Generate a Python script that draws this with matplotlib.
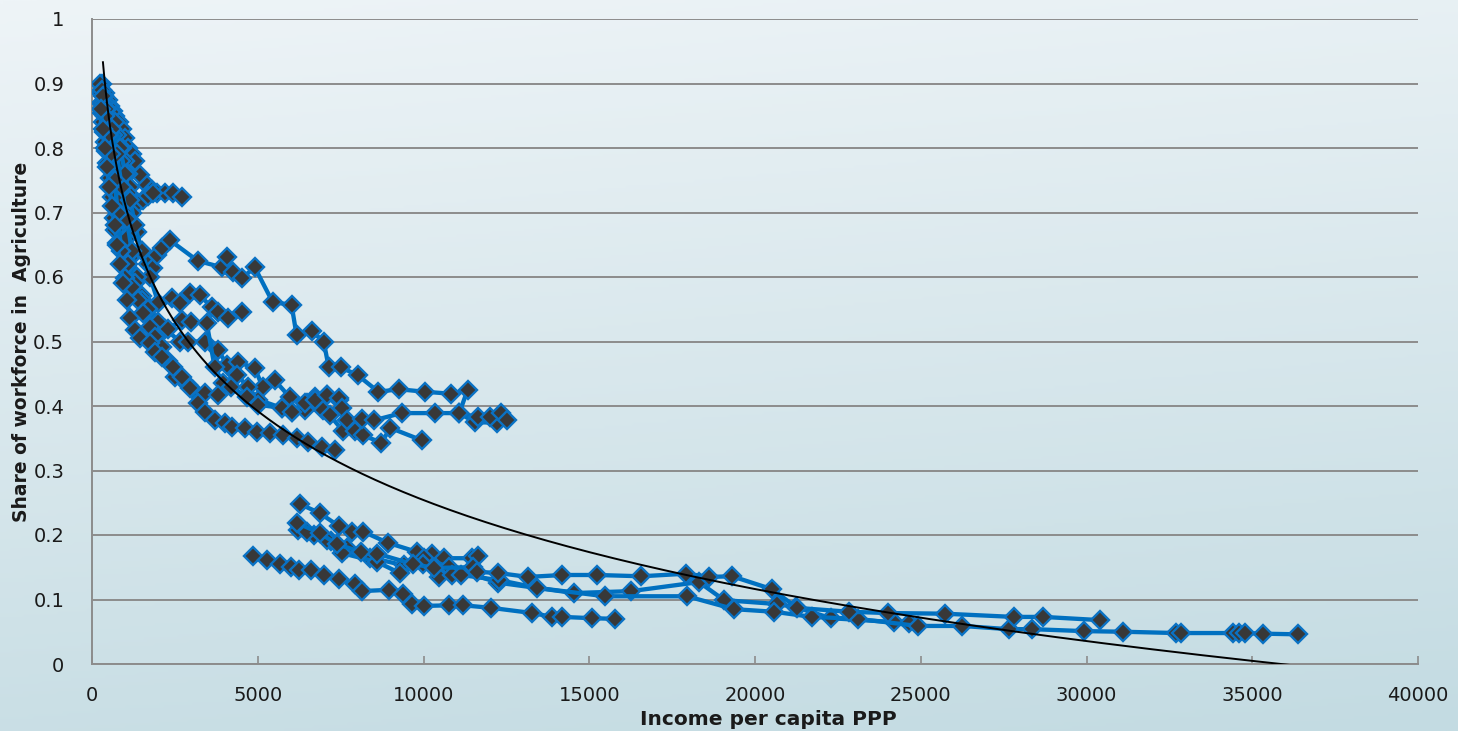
import numpy as np
import matplotlib
matplotlib.use("Agg")
import matplotlib.pyplot as plt
from matplotlib.colors import LinearSegmentedColormap

# ---------------- data (income per capita PPP, share of workforce in agriculture) -------------
u1_x = [300, 400, 480, 550, 620, 700, 800, 900, 1000, 1100, 1200, 1300, 1450, 1650, 1800, 1960, 2200, 2440, 2710]
u1_y = [0.90, 0.885, 0.875, 0.865, 0.858, 0.85, 0.84, 0.83, 0.815, 0.80, 0.79, 0.78, 0.758, 0.743, 0.735, 0.73, 0.73, 0.73, 0.724]

u2_x = [240, 260, 280, 300, 330, 360, 400, 430, 450, 540, 600, 660, 690, 750]
u2_y = [0.90, 0.885, 0.87, 0.855, 0.84, 0.825, 0.81, 0.795, 0.777, 0.753, 0.724, 0.691, 0.673, 0.653]

u3_x = [330, 420, 520, 640, 760, 880, 1000, 1100, 1200, 1350, 1500, 1700, 1840, 1960, 2110, 2350, 3190, 3920,
        4070, 4250, 4520, 4910, 5450, 6020, 6170, 6630, 6990, 7140, 7500, 8010, 8640, 9250, 10060, 10840, 11330,
        11080, 11540, 12230]
u3_y = [0.88, 0.86, 0.84, 0.82, 0.80, 0.78, 0.76, 0.73, 0.70, 0.67, 0.64, 0.62, 0.614, 0.634, 0.645, 0.657, 0.625,
        0.615, 0.631, 0.608, 0.598, 0.615, 0.561, 0.557, 0.51, 0.516, 0.50, 0.46, 0.46, 0.448, 0.422, 0.426, 0.422,
        0.419, 0.425, 0.389, 0.375, 0.374]

u4_x = [380, 480, 580, 680, 780, 880, 990, 1200, 1390, 1540, 1750, 1900, 2110, 2300, 2500, 2890, 3040, 3400, 3800,
        4200, 4670, 5000, 5720, 6020, 6420, 6720, 7080, 7440, 7530, 7680, 8130, 8520, 9340, 10360, 11080, 11630,
        12020, 12350, 12530]
u4_y = [0.85, 0.82, 0.79, 0.75, 0.70, 0.64, 0.598, 0.585, 0.564, 0.544, 0.523, 0.507, 0.491, 0.47, 0.445, 0.433,
        0.425, 0.42, 0.417, 0.43, 0.414, 0.402, 0.397, 0.391, 0.405, 0.409, 0.417, 0.412, 0.397, 0.378, 0.38, 0.378,
        0.389, 0.389, 0.389, 0.383, 0.383, 0.389, 0.378]

u5_x = [1100, 1300, 1500, 1700, 2000, 2300, 2710, 3000, 3460, 3700, 3950, 4370, 4700, 5000, 5720, 6020, 6420, 6960,
        7170, 7560, 7920, 8160, 8730, 9000, 9940]
u5_y = [0.62, 0.59, 0.565, 0.55, 0.53, 0.52, 0.533, 0.53, 0.529, 0.46, 0.436, 0.448, 0.43, 0.41, 0.397, 0.391,
        0.394, 0.394, 0.386, 0.362, 0.361, 0.355, 0.343, 0.366, 0.347]

u6_x = [260, 320, 380, 450, 520, 600, 680, 760, 850, 950, 1050, 1150, 1300, 1450, 1750, 1900, 2110, 2440, 2710,
        2950, 3190, 3400, 3700, 4000, 4220, 4610, 4970, 5360, 5750, 6170, 6510, 6930, 7320]
u6_y = [0.86, 0.83, 0.80, 0.77, 0.74, 0.71, 0.68, 0.65, 0.62, 0.59, 0.565, 0.536, 0.518, 0.505, 0.498, 0.484,
        0.476, 0.46, 0.445, 0.428, 0.405, 0.39, 0.378, 0.374, 0.367, 0.366, 0.36, 0.358, 0.355, 0.35, 0.344, 0.336,
        0.332]

u8_x = [700, 850, 1000, 1150, 1300, 1500, 1750, 2000, 2410, 2650, 2950, 3250, 3610, 3800, 4100, 4520]
u8_y = [0.84, 0.80, 0.76, 0.72, 0.68, 0.64, 0.60, 0.56, 0.567, 0.56, 0.575, 0.572, 0.553, 0.546, 0.536, 0.546]

u9_x = [600, 750, 900, 1050, 1200, 1350, 1500, 1700, 1900, 2200, 2650, 2900, 3400, 3800, 4070, 4400, 4910, 5150,
        5510, 5960, 6480, 6720, 7080, 7440]
u9_y = [0.83, 0.79, 0.74, 0.69, 0.64, 0.60, 0.57, 0.55, 0.53, 0.52, 0.50, 0.50, 0.50, 0.487, 0.464, 0.468, 0.459,
        0.429, 0.44, 0.414, 0.405, 0.414, 0.417, 0.41]

u10_x = [300, 350, 420, 500, 580, 650, 720, 800, 880, 960, 1050, 1150, 1250, 1350]
u10_y = [0.89, 0.87, 0.85, 0.83, 0.81, 0.79, 0.77, 0.75, 0.72, 0.69, 0.66, 0.63, 0.60, 0.57]

u12_x = [350, 450, 600, 750, 900, 1000, 1100, 1150, 1250, 1400, 1550, 1700, 1850]
u12_y = [0.88, 0.86, 0.84, 0.82, 0.80, 0.78, 0.76, 0.74, 0.72, 0.715, 0.72, 0.725, 0.73]

l1_x = [6270, 6870, 7440, 7830, 8190, 8920, 9790, 10270, 10630, 11450, 11630]
l1_y = [0.248, 0.234, 0.214, 0.205, 0.205, 0.188, 0.174, 0.171, 0.164, 0.164, 0.167]

l2_x = [6170, 6870, 7380, 8100, 8610, 9670, 10330, 11480, 11600, 12260, 13160, 14190, 15240, 16570, 17920, 18610,
        19310, 20510, 21270, 22830, 24010, 25720, 27800, 28700, 30420]
l2_y = [0.219, 0.203, 0.186, 0.174, 0.171, 0.155, 0.149, 0.15, 0.143, 0.141, 0.135, 0.138, 0.138, 0.136, 0.14,
        0.135, 0.136, 0.116, 0.087, 0.081, 0.079, 0.078, 0.073, 0.073, 0.068]

l3_x = [4850, 5270, 5660, 5990, 6230, 6600, 6990, 7440, 7920, 8130, 8950, 9370, 9640, 10000, 10780, 11200, 12050,
        13280, 13890, 14190, 15090, 15780]
l3_y = [0.167, 0.161, 0.155, 0.150, 0.146, 0.146, 0.138, 0.132, 0.124, 0.113, 0.115, 0.109, 0.093, 0.09, 0.091,
        0.091, 0.087, 0.079, 0.073, 0.073, 0.071, 0.07]

l4_x = [6200, 6500, 7080, 7530, 8610, 9280, 9970, 10480, 10870, 11140, 12290, 13430, 15480, 17950, 19370, 20570,
        21720, 23100, 24910, 26240, 27650, 28370, 29910, 31110, 32710, 32860, 34430, 34600, 34790, 35330, 36390]
l4_y = [0.208, 0.205, 0.192, 0.172, 0.158, 0.141, 0.155, 0.135, 0.138, 0.138, 0.13, 0.118, 0.105, 0.105, 0.085,
        0.081, 0.073, 0.07, 0.059, 0.059, 0.054, 0.054, 0.051, 0.05, 0.048, 0.048, 0.048, 0.048, 0.048, 0.047, 0.046]

l5_x = [6300, 6700, 7200, 7700, 8400, 9400, 10000, 10780, 12260, 14550, 16270, 18310, 19070, 20660, 21240, 22290,
        24190, 24640]
l5_y = [0.212, 0.2, 0.19, 0.18, 0.165, 0.153, 0.165, 0.15, 0.126, 0.11, 0.113, 0.127, 0.099, 0.093, 0.088, 0.071,
        0.065, 0.064]

# logarithmic trendline y = A + B*ln(x), range
trend_a = 2.087
trend_b = -0.199
trend_range = [330, 36390]

x_ticks = [0, 5000, 10000, 15000, 20000, 25000, 30000, 35000, 40000]
y_ticks = [0, 0.1, 0.2, 0.3, 0.4, 0.5, 0.6, 0.7, 0.8, 0.9, 1]
y_tick_labels = ["0", "0.1", "0.2", "0.3", "0.4", "0.5", "0.6", "0.7", "0.8", "0.9", "1"]
x_label = "Income per capita PPP"
y_label = "Share of workforce in  Agriculture"

series = [
    (u1_x, u1_y), (u2_x, u2_y), (u10_x, u10_y), (u12_x, u12_y), (u3_x, u3_y), (u8_x, u8_y),
    (u9_x, u9_y), (u5_x, u5_y), (u4_x, u4_y), (u6_x, u6_y),
    (l3_x, l3_y), (l1_x, l1_y), (l5_x, l5_y), (l4_x, l4_y), (l2_x, l2_y),
]

# ---------------- figure ----------------
W, H = 1458, 731
fig = plt.figure(figsize=(W / 100, H / 100), dpi=100)

# gradient background
bg = fig.add_axes([0, 0, 1, 1], zorder=-10)
bg.set_axis_off()
gy = np.linspace(0, 1, 256)[:, None]
gx = np.linspace(0, 1, 256)[None, :]
grad = np.clip(0.85 * gy + 0.15 * gx, 0, 1)
cmap = LinearSegmentedColormap.from_list("bg", ["#eef4f7", "#c3dbe2"])
bg.imshow(grad, cmap=cmap, aspect="auto", extent=[0, 1, 0, 1], origin="upper")
bg.set_xlim(0, 1)
bg.set_ylim(0, 1)

ax = fig.add_axes([92 / W, 67 / H, 1326 / W, 645 / H])
ax.set_facecolor("none")

for xs, ys in series:
    ax.plot(xs, ys, color="#0070c0", lw=3.1, marker="D", markersize=8.8,
            markerfacecolor="#383838", markeredgecolor="#0a72c4", markeredgewidth=1.7,
            solid_joinstyle="round", zorder=3)

tx = np.geomspace(trend_range[0], trend_range[1], 400)
ty = trend_a + trend_b * np.log(tx)
ax.plot(tx, ty, color="black", lw=1.4, zorder=4)

ax.set_xlim(0, 40000)
ax.set_ylim(0, 1)
ax.set_xticks(x_ticks)
ax.set_xticklabels([str(v) for v in x_ticks])
ax.set_yticks(y_ticks)
ax.set_yticklabels(y_tick_labels)
ax.yaxis.grid(True, color="#8c8c8c", lw=1.4)
ax.xaxis.grid(False)
ax.set_axisbelow(True)
for s in ["top", "right"]:
    ax.spines[s].set_visible(False)
for s in ["left", "bottom"]:
    ax.spines[s].set_color("#8c8c8c")
    ax.spines[s].set_linewidth(1.4)
ax.tick_params(axis="x", direction="in", length=6, width=1.2, color="#8c8c8c",
               labelsize=14, labelcolor="#1a1a1a", pad=16)
ax.tick_params(axis="y", length=0, labelsize=14, labelcolor="#1a1a1a", pad=20)

ax.set_xlabel(x_label, fontsize=14.5, fontweight="bold", color="#1a1a1a")
ax.set_ylabel(y_label, fontsize=13.5, fontweight="bold", color="#1a1a1a")
ax.xaxis.set_label_coords(0.51, -0.071)
ax.yaxis.set_label_coords(-0.046, 0.5)

fig.savefig("out.png", dpi=100)
